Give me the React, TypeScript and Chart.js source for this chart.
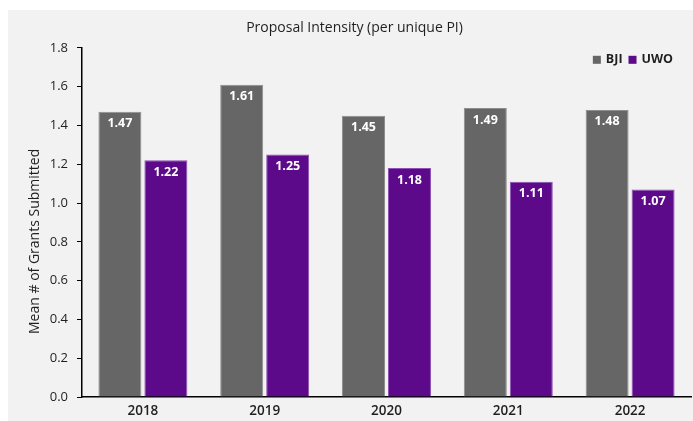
import React, { useEffect, useRef } from "react";
import { Chart, registerables } from "chart.js";

Chart.register(...registerables);

const categories = ["2018", "2019", "2020", "2021", "2022"];
const bjiValues = [1.47, 1.61, 1.45, 1.49, 1.48];
const uwoValues = [1.22, 1.25, 1.18, 1.11, 1.07];
const seriesNames = ["BJI", "UWO"];
const yTickMin = 0;
const yTickMax = 1.8;
const yTickStep = 0.2;

const FONT = "'Open Sans', 'DejaVu Sans', sans-serif";
const GRAY = "#656665";
const GRAY_BORDER = "#8e8e8e";
const PURPLE = "#5d0a8a";
const PURPLE_BORDER = "#8d52b3";
const TEXT = "#1f1f1f";

const dataLabelPlugin = {
  id: "dataLabels",
  afterDatasetsDraw(chart: any) {
    const ctx = chart.ctx;
    ctx.save();
    ctx.fillStyle = "#ffffff";
    ctx.font = `bold 12.5px ${FONT}`;
    ctx.textAlign = "center";
    ctx.textBaseline = "middle";
    chart.data.datasets.forEach((ds: any, i: number) => {
      const meta = chart.getDatasetMeta(i);
      meta.data.forEach((bar: any, j: number) => {
        ctx.fillText(Number(ds.data[j]).toFixed(2), bar.x, bar.y + 12);
      });
    });
    ctx.restore();
  },
};

const yTitlePlugin = {
  id: "yTitle",
  afterDraw(chart: any) {
    const { ctx, chartArea } = chart;
    ctx.save();
    ctx.translate(27, (chartArea.top + chartArea.bottom) / 2 + 19);
    ctx.rotate(-Math.PI / 2);
    ctx.fillStyle = TEXT;
    ctx.font = `14px ${FONT}`;
    ctx.textAlign = "center";
    ctx.textBaseline = "middle";
    ctx.fillText("Mean # of Grants Submitted", 0, 0);
    ctx.restore();
  },
};

const legendPlugin = {
  id: "customLegend",
  afterDraw(chart: any) {
    const { ctx, chartArea } = chart;
    ctx.save();
    ctx.font = `bold 12.5px ${FONT}`;
    ctx.textBaseline = "middle";
    const box = 8;
    const gapText = 5;
    const gapItem = 6;
    const items = chart.data.datasets.map((ds: any) => ({
      label: ds.label,
      color: ds.backgroundColor,
      w: ctx.measureText(ds.label).width,
    }));
    let total = 0;
    items.forEach((it: any, i: number) => {
      total += box + gapText + it.w + (i < items.length - 1 ? gapItem : 0);
    });
    let x = chartArea.right - 18 - total;
    const y = chartArea.top + 12;
    items.forEach((it: any) => {
      ctx.fillStyle = it.color;
      ctx.fillRect(x, y - box / 2, box, box);
      x += box + gapText;
      ctx.fillStyle = TEXT;
      ctx.fillText(it.label, x, y);
      x += it.w + gapItem;
    });
    ctx.restore();
  },
};

export default function App() {
  const ref = useRef<HTMLCanvasElement | null>(null);

  useEffect(() => {
    if (!ref.current) return;
    const chart = new Chart(ref.current, {
      type: "bar",
      data: {
        labels: categories,
        datasets: [
          {
            label: seriesNames[0],
            data: bjiValues,
            backgroundColor: GRAY,
            borderColor: GRAY_BORDER,
            borderWidth: 1,
            categoryPercentage: 0.755,
            barPercentage: 0.935,
          },
          {
            label: seriesNames[1],
            data: uwoValues,
            backgroundColor: PURPLE,
            borderColor: PURPLE_BORDER,
            borderWidth: 1,
            categoryPercentage: 0.755,
            barPercentage: 0.935,
          },
        ],
      },
      options: {
        responsive: false,
        animation: false,
        devicePixelRatio: 1,
        layout: { padding: { left: 10, right: 2, top: 0, bottom: 0 } },
        plugins: {
          legend: { display: false },
          tooltip: { enabled: false },
          title: {
            display: true,
            text: "Proposal Intensity (per unique PI)",
            color: TEXT,
            font: { family: FONT, size: 14, weight: "normal" },
            padding: { top: 10, bottom: 11 },
          },
        },
        scales: {
          x: {
            afterFit: (scale: any) => {
              scale.height = 24;
            },
            grid: { display: true, drawOnChartArea: false, drawTicks: false },
            border: { display: true, color: "#000000", width: 1.5 },
            ticks: {
              color: TEXT,
              padding: 6,
              font: { family: FONT, size: 13.5, weight: 600 },
            },
          },
          y: {
            min: yTickMin,
            max: yTickMax,
            afterFit: (scale: any) => {
              scale.width = 64;
            },
            grid: {
              display: true,
              drawOnChartArea: false,
              drawTicks: true,
              tickLength: 5,
              color: "#000000",
              lineWidth: 1,
            },
            border: { display: true, color: "#000000", width: 1.5 },
            ticks: {
              stepSize: yTickStep,
              color: TEXT,
              padding: 9,
              font: { family: FONT, size: 13 },
              callback: (v: any) => Number(v).toFixed(1),
            },
          },
        },
      },
      plugins: [dataLabelPlugin, yTitlePlugin, legendPlugin],
    });
    return () => chart.destroy();
  }, []);

  return (
    <div
      style={{
        position: "absolute",
        left: 8,
        top: 10,
        width: 685,
        height: 411,
        background: "#f2f2f2",
      }}
    >
      <canvas ref={ref} width={685} height={411} style={{ display: "block" }} />
    </div>
  );
}
